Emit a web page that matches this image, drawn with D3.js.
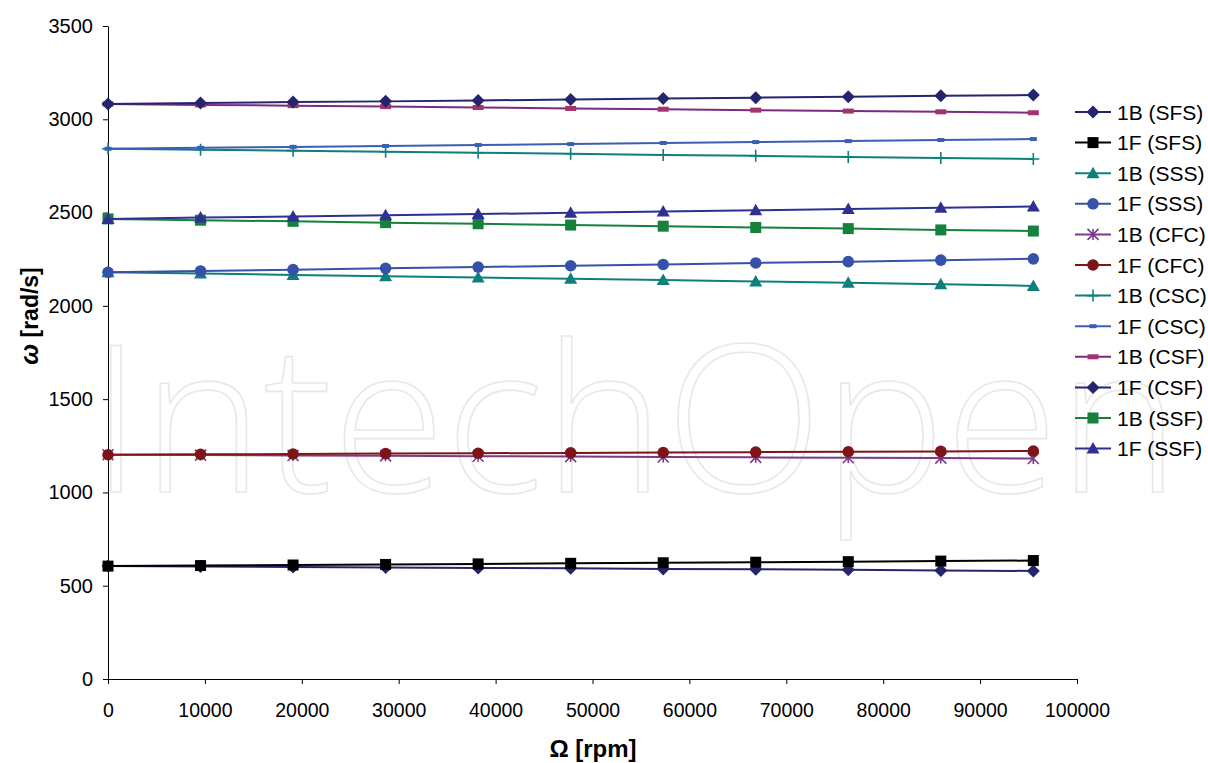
<!DOCTYPE html>
<html>
<head>
<meta charset="utf-8">
<script src="https://cdn.jsdelivr.net/npm/d3@7"></script>
<style>
  html, body { margin: 0; padding: 0; background: #fff; }
  svg { display: block; font-family: "Liberation Sans", Arial, sans-serif; }
</style>
</head>
<body>
<svg id="chart" width="1208" height="763"></svg>
<script>
// Rotor speed samples (rpm)
const omega = [0, 9549, 19099, 28648, 38197, 47746, 57296, 66845, 76394, 85944, 95493];

// Natural frequencies (rad/s) per mode and boundary condition
const b1SFS = [605, 603, 600, 598, 595, 593, 590, 588, 585, 582, 579];
const f1SFS = [605, 608, 611, 614, 617, 620, 623, 626, 629, 632, 635];
const b1SSS = [2180, 2173, 2166, 2159, 2152, 2145, 2138, 2131, 2124, 2116, 2107];
const f1SSS = [2180, 2187, 2194, 2201, 2208, 2215, 2222, 2230, 2237, 2245, 2252];
const b1CFC = [1202, 1200, 1198, 1196, 1194, 1192, 1190, 1188, 1186, 1184, 1182];
const f1CFC = [1202, 1204, 1206, 1208, 1210, 1212, 1214, 1216, 1218, 1220, 1222];
const b1CSC = [2842, 2837, 2832, 2826, 2821, 2815, 2809, 2804, 2798, 2792, 2787];
const f1CSC = [2842, 2847, 2852, 2857, 2862, 2867, 2873, 2878, 2883, 2889, 2894];
const b1CSF = [3082, 3077, 3073, 3068, 3063, 3058, 3054, 3049, 3044, 3040, 3035];
const f1CSF = [3082, 3087, 3092, 3096, 3101, 3106, 3111, 3116, 3121, 3126, 3130];
const b1SSF = [2466, 2459, 2453, 2446, 2440, 2433, 2427, 2420, 2414, 2407, 2401];
const f1SSF = [2466, 2473, 2479, 2486, 2492, 2499, 2506, 2512, 2519, 2526, 2532];

const seriesNames = ["1B (SFS)", "1F (SFS)", "1B (SSS)", "1F (SSS)", "1B (CFC)", "1F (CFC)",
                     "1B (CSC)", "1F (CSC)", "1B (CSF)", "1F (CSF)", "1B (SSF)", "1F (SSF)"];
const seriesValues = [b1SFS, f1SFS, b1SSS, f1SSS, b1CFC, f1CFC, b1CSC, f1CSC, b1CSF, f1CSF, b1SSF, f1SSF];

const xTicks = [0, 10000, 20000, 30000, 40000, 50000, 60000, 70000, 80000, 90000, 100000];
const yTicks = [0, 500, 1000, 1500, 2000, 2500, 3000, 3500];

// Styling per series
const styles = [
  { color: "#25256e", line: "#25256e", marker: "diamond" },
  { color: "#000000", line: "#000000", marker: "square" },
  { color: "#0f7f7b", line: "#0f7f7b", marker: "triangle" },
  { color: "#3552a8", line: "#3552a8", marker: "circle" },
  { color: "#7a3a8c", line: "#7a3a8c", marker: "asterisk" },
  { color: "#7d1518", line: "#7d1518", marker: "circle" },
  { color: "#0f7f7b", line: "#0f7f7b", marker: "plus" },
  { color: "#3a5fb3", line: "#3a5fb3", marker: "smalldash" },
  { color: "#a3336a", line: "#7b2a7d", marker: "dash" },
  { color: "#25256e", line: "#25256e", marker: "diamond" },
  { color: "#17803d", line: "#17803d", marker: "square" },
  { color: "#2e3192", line: "#2e3192", marker: "triangle" }
];

const svg = d3.select("#chart");
const margin = { left: 108, top: 26, right: 1077, bottom: 679 };

const x = d3.scaleLinear().domain([0, 100000]).range([margin.left, margin.right]);
const y = d3.scaleLinear().domain([0, 3500]).range([margin.bottom, margin.top]);

// Background watermark
svg.append("text")
  .attr("x", 90)
  .attr("y", 492)
  .attr("textLength", 1090)
  .attr("lengthAdjust", "spacingAndGlyphs")
  .style("font-family", "'Open Sans', 'DejaVu Sans', sans-serif")
  .style("font-weight", 300)
  .style("font-size", "205px")
  .attr("fill", "none")
  .attr("stroke", "#e8e8e8")
  .attr("stroke-width", 1.6)
  .text("IntechOpen");

// Axes
const xAxis = d3.axisBottom(x).tickValues(xTicks).tickSize(5).tickSizeOuter(0).tickPadding(19)
  .tickFormat(d3.format("d"));
const yAxis = d3.axisLeft(y).tickValues(yTicks).tickSize(5).tickSizeOuter(0).tickPadding(10)
  .tickFormat(d3.format("d"));

const gx = svg.append("g").attr("transform", `translate(0,${margin.bottom})`).call(xAxis);
const gy = svg.append("g").attr("transform", `translate(${margin.left},0)`).call(yAxis);

[gx, gy].forEach(g => {
  g.select(".domain").attr("stroke", "#000").attr("stroke-width", 1);
  g.selectAll(".tick line").attr("stroke", "#000").attr("stroke-width", 1);
  g.selectAll(".tick text")
    .attr("fill", "#000")
    .style("font-family", "'Liberation Sans', Arial, sans-serif");
});
gx.selectAll(".tick text").style("font-size", "19.5px");
gy.selectAll(".tick text").style("font-size", "20px");

// Axis titles
const yTitle = svg.append("text")
  .attr("transform", "translate(38,316) rotate(-90)")
  .attr("text-anchor", "middle")
  .style("font-size", "23px")
  .style("font-weight", "bold");
yTitle.append("tspan").style("font-style", "italic").style("font-size", "25px").text("ω");
yTitle.append("tspan").text("  [rad/s]");

svg.append("text")
  .attr("x", 593)
  .attr("y", 757)
  .attr("text-anchor", "middle")
  .style("font-size", "24px")
  .style("font-weight", "bold")
  .text("Ω [rpm]");

// Marker drawing
function drawMarker(g, type, cx, cy, color) {
  switch (type) {
    case "diamond":
      g.append("path").attr("d", `M${cx},${cy - 6.5}L${cx + 6.5},${cy}L${cx},${cy + 6.5}L${cx - 6.5},${cy}Z`)
        .attr("fill", color);
      break;
    case "square":
      g.append("rect").attr("x", cx - 5.5).attr("y", cy - 5.5).attr("width", 11).attr("height", 11)
        .attr("fill", color);
      break;
    case "triangle":
      g.append("path").attr("d", `M${cx},${cy - 6.5}L${cx + 6.5},${cy + 5}L${cx - 6.5},${cy + 5}Z`)
        .attr("fill", color);
      break;
    case "circle":
      g.append("circle").attr("cx", cx).attr("cy", cy).attr("r", 5.8).attr("fill", color);
      break;
    case "asterisk": {
      const r = 5.5;
      const p = `M${cx - r},${cy - r}L${cx + r},${cy + r}M${cx - r},${cy + r}L${cx + r},${cy - r}M${cx},${cy - r}L${cx},${cy + r}`;
      g.append("path").attr("d", p).attr("stroke", color).attr("stroke-width", 1.6).attr("fill", "none");
      break;
    }
    case "plus": {
      const r = 6;
      const p = `M${cx - r},${cy}L${cx + r},${cy}M${cx},${cy - r}L${cx},${cy + r}`;
      g.append("path").attr("d", p).attr("stroke", color).attr("stroke-width", 1.6).attr("fill", "none");
      break;
    }
    case "smalldash":
      g.append("rect").attr("x", cx - 3.5).attr("y", cy - 2).attr("width", 7).attr("height", 4)
        .attr("fill", color);
      break;
    case "dash":
      g.append("rect").attr("x", cx - 5.5).attr("y", cy - 2.5).attr("width", 11).attr("height", 5)
        .attr("fill", color);
      break;
  }
}

const line = d3.line().x((d, i) => x(omega[i])).y(d => y(d));

// Series lines and markers
seriesValues.forEach((vals, si) => {
  const st = styles[si];
  const g = svg.append("g").attr("class", "series");
  g.append("path")
    .datum(vals)
    .attr("d", line)
    .attr("fill", "none")
    .attr("stroke", st.line)
    .attr("stroke-width", 2);
  vals.forEach((v, i) => drawMarker(g, st.marker, x(omega[i]), y(v), st.color));
});

// Legend
const legend = svg.append("g");
const legendTop = 112, legendStep = 30.6;
seriesNames.forEach((name, i) => {
  const st = styles[i];
  const cy = legendTop + i * legendStep;
  legend.append("line")
    .attr("x1", 1075).attr("x2", 1111).attr("y1", cy).attr("y2", cy)
    .attr("stroke", st.line).attr("stroke-width", 2);
  drawMarker(legend, st.marker, 1093, cy, st.color);
  legend.append("text")
    .attr("x", 1117)
    .attr("y", cy)
    .attr("dy", "0.36em")
    .style("font-size", "21px")
    .attr("fill", "#000")
    .text(name);
});
</script>
</body>
</html>
